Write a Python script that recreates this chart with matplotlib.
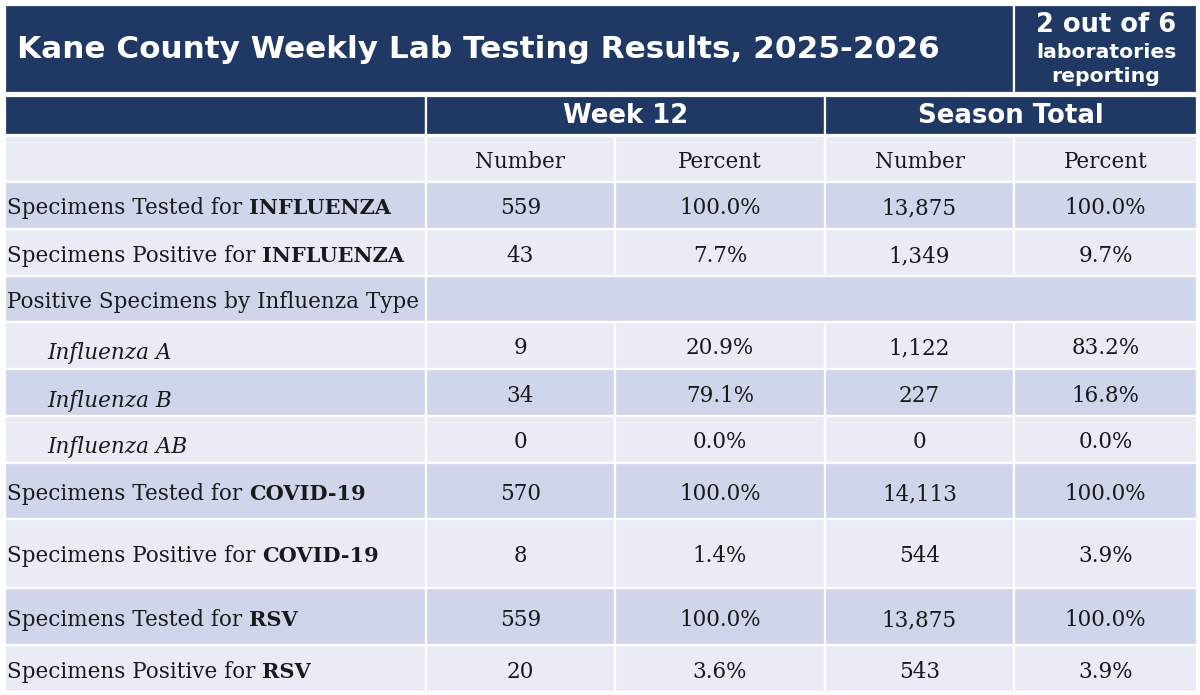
import matplotlib
matplotlib.use("Agg")
import matplotlib.pyplot as plt
from matplotlib.patches import Rectangle

TITLE = "Kane County Weekly Lab Testing Results, 2025-2026"
REPORT_TOP = "2 out of 6"
REPORT_BOTTOM = ["laboratories", "reporting"]
GROUPS = ["Week 12", "Season Total"]
SUBHEADS = ["Number", "Percent", "Number", "Percent"]

# row label: plain part, bold part, style
ROW_PLAIN = [
    "Specimens Tested for ",
    "Specimens Positive for ",
    "Positive Specimens by Influenza Type",
    "Influenza A",
    "Influenza B",
    "Influenza AB",
    "Specimens Tested for ",
    "Specimens Positive for ",
    "Specimens Tested for ",
    "Specimens Positive for ",
]
ROW_BOLD = ["INFLUENZA", "INFLUENZA", "", "", "", "", "COVID-19", "COVID-19", "RSV", "RSV"]
ROW_STYLE = ["normal", "normal", "section", "italic", "italic", "italic",
             "normal", "normal", "normal", "normal"]

WEEK_NUM = ["559", "43", "", "9", "34", "0", "570", "8", "559", "20"]
WEEK_PCT = ["100.0%", "7.7%", "", "20.9%", "79.1%", "0.0%", "100.0%", "1.4%", "100.0%", "3.6%"]
SEASON_NUM = ["13,875", "1,349", "", "1,122", "227", "0", "14,113", "544", "13,875", "543"]
SEASON_PCT = ["100.0%", "9.7%", "", "83.2%", "16.8%", "0.0%", "100.0%", "3.9%", "100.0%", "3.9%"]

NAVY = "#203864"
LIGHT = "#E9EBF5"
DARK = "#CFD5EA"
INK = "#1a1a1a"

# layout in pixels
COL_EDGES = [5, 426, 615, 825, 1014, 1197]
ROW_EDGES = [136, 182, 229, 276, 322, 369, 416, 463, 519, 588, 645, 692]
SERIF = "DejaVu Serif"
FS = 15.5
BASE = 9  # baseline offset from row centre

fig = plt.figure(figsize=(12, 6.95), dpi=100)
ax = fig.add_axes([0, 0, 1, 1])
ax.set_xlim(0, 1200)
ax.set_ylim(695, 0)
ax.axis("off")


def cell(x0, x1, y0, y1, color):
    ax.add_patch(Rectangle((x0, y0), x1 - x0, y1 - y0, facecolor=color,
                           edgecolor="white", linewidth=1.6))


# title band
cell(5, 1014, 5, 93, NAVY)
cell(1014, 1197, 5, 93, NAVY)
ax.text(17, 50, TITLE, color="white", fontsize=22.4, fontweight="bold",
        family="DejaVu Sans", ha="left", va="center")
ax.text(1106, 25, REPORT_TOP, color="white", fontsize=18.5, fontweight="bold",
        family="DejaVu Sans", ha="center", va="center")
ax.text(1106, 52, REPORT_BOTTOM[0], color="white", fontsize=14.7, fontweight="bold",
        family="DejaVu Sans", ha="center", va="center")
ax.text(1106, 77, REPORT_BOTTOM[1], color="white", fontsize=14.7, fontweight="bold",
        family="DejaVu Sans", ha="center", va="center")

# group header band
cell(5, 426, 96, 135, NAVY)
cell(426, 825, 96, 135, NAVY)
cell(825, 1197, 96, 135, NAVY)
for i, g in enumerate(GROUPS):
    cx = (COL_EDGES[1 + 2 * i] + COL_EDGES[3 + 2 * i]) / 2
    ax.text(cx, 116, g, color="white", fontsize=18.7, fontweight="bold",
            family="DejaVu Sans", ha="center", va="center")

# sub header row
y0, y1 = ROW_EDGES[0], ROW_EDGES[1]
for c in range(5):
    cell(COL_EDGES[c], COL_EDGES[c + 1], y0, y1, LIGHT)
for c, s in enumerate(SUBHEADS):
    cx = (COL_EDGES[c + 1] + COL_EDGES[c + 2]) / 2
    ax.text(cx, (y0 + y1) / 2 + BASE, s, fontsize=FS, family=SERIF,
            ha="center", va="baseline", color=INK)

# body rows
columns = [WEEK_NUM, WEEK_PCT, SEASON_NUM, SEASON_PCT]
pending_bold = []
for r in range(len(ROW_PLAIN)):
    y0, y1 = ROW_EDGES[r + 1], ROW_EDGES[r + 2]
    color = DARK if r % 2 == 0 else LIGHT
    base = round((y0 + y1) / 2 + BASE)
    cell(COL_EDGES[0], COL_EDGES[1], y0, y1, color)
    if ROW_STYLE[r] == "section":
        cell(COL_EDGES[1], COL_EDGES[5], y0, y1, color)
    else:
        for c in range(1, 5):
            cell(COL_EDGES[c], COL_EDGES[c + 1], y0, y1, color)

    if ROW_STYLE[r] == "italic":
        ax.text(47, base + 5, ROW_PLAIN[r], fontsize=FS, family=SERIF,
                style="italic", ha="left", va="baseline", color=INK)
    else:
        t = ax.text(7, base, ROW_PLAIN[r], fontsize=FS, family=SERIF,
                    ha="left", va="baseline", color=INK)
        if ROW_BOLD[r]:
            pending_bold.append((t, base, ROW_BOLD[r]))
    for c, col in enumerate(columns):
        cx = (COL_EDGES[c + 1] + COL_EDGES[c + 2]) / 2
        ax.text(cx, base, col[r], fontsize=FS, family=SERIF,
                ha="center", va="baseline", color=INK)

# bold keywords go right after the plain part, on the same baseline
fig.canvas.draw()
renderer = fig.canvas.get_renderer()
for t, base, word in pending_bold:
    bb = t.get_window_extent(renderer)
    x_end = ax.transData.inverted().transform((bb.x1, bb.y0))[0]
    ax.text(x_end, base, word, fontsize=15, family=SERIF, fontweight="bold",
            ha="left", va="baseline", color=INK)

fig.savefig("out.png", dpi=100, facecolor="white")
